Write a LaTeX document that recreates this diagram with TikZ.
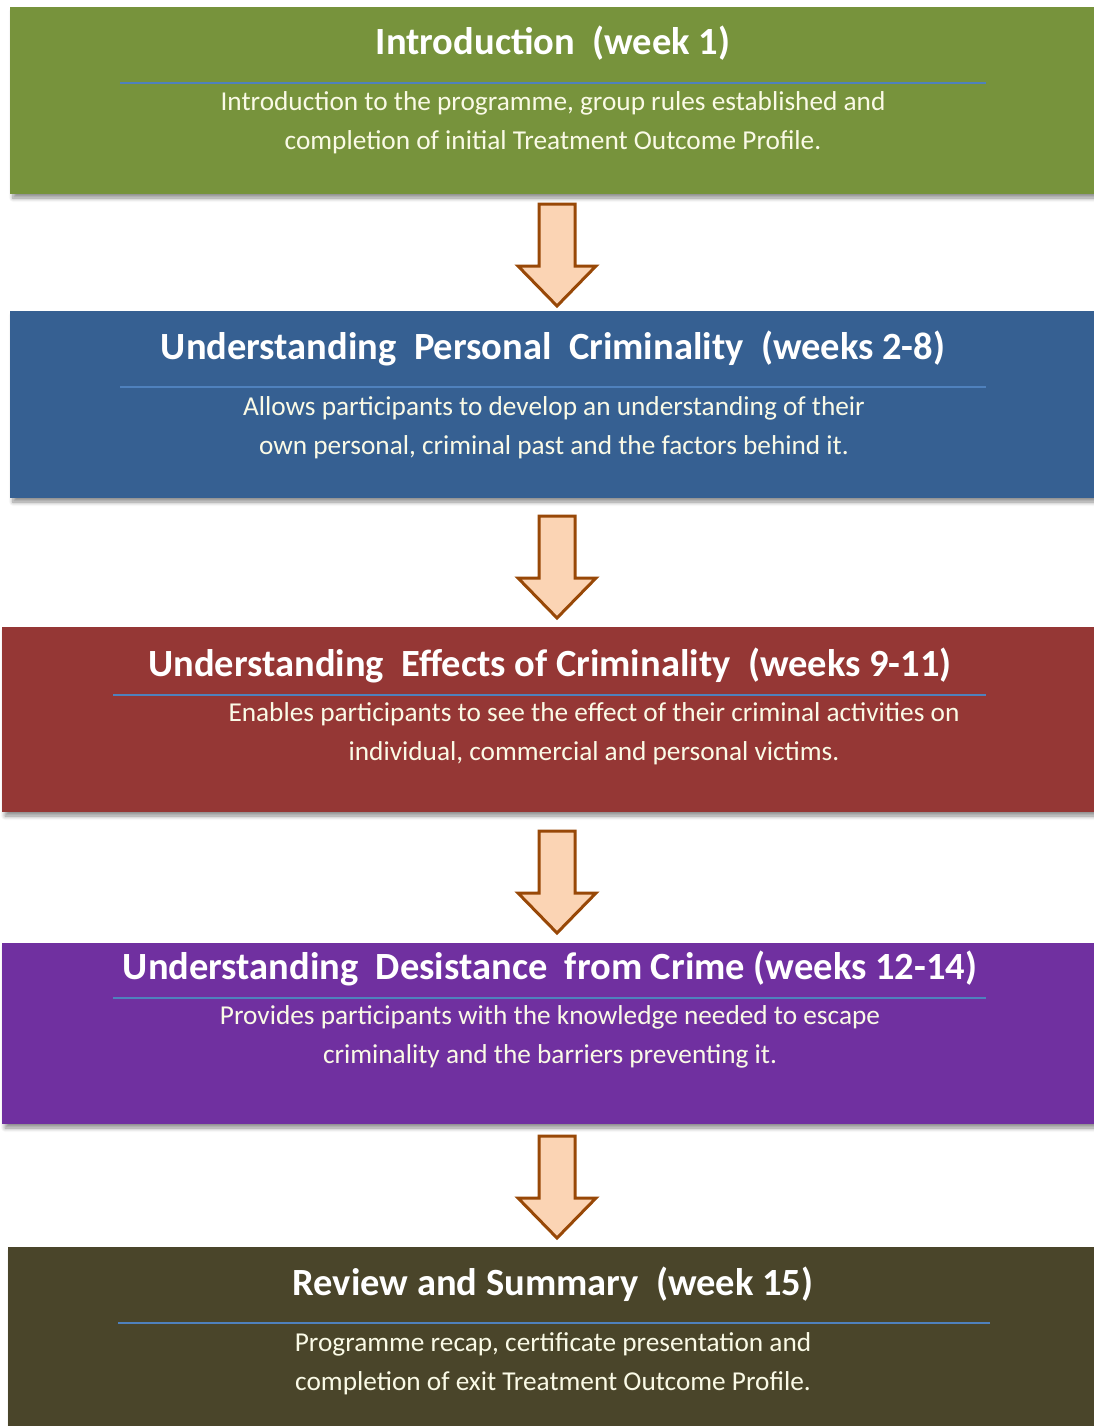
\documentclass[tikz,border=0pt]{standalone}
\usepackage{fontspec}
\setmainfont{Carlito}
\usetikzlibrary{shadows,shadows.blur,calc}
\definecolor{cgreen}{HTML}{77933C}
\definecolor{cblue}{HTML}{366092}
\definecolor{cred}{HTML}{953735}
\definecolor{cpurple}{HTML}{7030A0}
\definecolor{colive}{HTML}{4A452A}
\definecolor{arrfill}{HTML}{FBD4B4}
\definecolor{arrline}{HTML}{984807}
\definecolor{divline}{HTML}{4F81BD}
\definecolor{bodytxt}{HTML}{FAFAE6}
\tikzset{
  panel/.style={anchor=north west, inner sep=0pt, outer sep=0pt,
    blur shadow={shadow xshift=3pt, shadow yshift=-4pt, shadow blur steps=6,
      shadow blur radius=4pt, shadow opacity=45}},
  ttl/.style={text=white, font=\fontsize{38.5}{44}\selectfont\bfseries, inner sep=0pt},
  bdy/.style={text=bodytxt, font=\fontsize{27.3}{39}\selectfont, align=center, inner sep=0pt},
  divider/.style={draw=divline, line width=1.5pt},
  flowarrow/.style={draw=arrline, fill=arrfill, line width=3pt, line join=miter}
}
\newcommand{\blockarrow}[2]{%
  \coordinate (#1) at (557,#2);
  \draw[flowarrow] ($(#1)+(-18,-51)$) -- ($(#1)+(18,-51)$) -- ($(#1)+(18,11)$)
    -- ($(#1)+(39,11)$) -- ($(#1)+(0,51)$) -- ($(#1)+(-39,11)$)
    -- ($(#1)+(-18,11)$) -- cycle;}
\begin{document}
\begin{tikzpicture}[x=1pt,y=-1pt]
\useasboundingbox (0,0) rectangle (1094,1426);
% panels
\node[panel, fill=cgreen, minimum width=1084pt, minimum height=187pt] (p1) at (10,7) {};
\node[panel, fill=cblue, minimum width=1084pt, minimum height=187pt] (p2) at (10,311) {};
\node[panel, fill=cred, minimum width=1092pt, minimum height=185pt] (p3) at (2,627) {};
\node[panel, fill=cpurple, minimum width=1092pt, minimum height=181pt] (p4) at (2,943) {};
\node[panel, fill=colive, minimum width=1086pt, minimum height=185pt] (p5) at (8,1247) {};
% arrows
\blockarrow{a1}{255}
\blockarrow{a2}{567}
\blockarrow{a3}{882}
\blockarrow{a4}{1187}
% panel 1
\node[ttl] (t1) at (553,43.5) {Introduction\ \ (week 1)};
\coordinate (d1a) at (120,83); \coordinate (d1b) at (986,83);
\draw[divider] (d1a) -- (d1b);
\node[bdy] (b1) at (553,122.5) {Introduction to the programme, group rules established and\\completion of initial Treatment Outcome Profile.};
% panel 2
\node[ttl] (t2) at (553,348.5) {Understanding\ \ Personal\ \ Criminality\ \ (weeks 2-8)};
\coordinate (d2a) at (120,387); \coordinate (d2b) at (986,387);
\draw[divider] (d2a) -- (d2b);
\node[bdy] (b2) at (554,427.5) {Allows participants to develop an understanding of their\\own personal, criminal past and the factors behind it.};
% panel 3
\node[ttl] (t3) at (550,665.5) {Understanding\ \ Effects of Criminality\ \ (weeks 9-11)};
\coordinate (d3a) at (113,695); \coordinate (d3b) at (986,695);
\draw[divider] (d3a) -- (d3b);
\node[bdy] (b3) at (594,734) {Enables participants to see the effect of their criminal activities on\\individual, commercial and personal victims.};
% panel 4
\node[ttl] (t4) at (550,968.5) {Understanding\ \ Desistance\ \ from Crime (weeks 12-14)};
\coordinate (d4a) at (113,998); \coordinate (d4b) at (986,998);
\draw[divider] (d4a) -- (d4b);
\node[bdy] (b4) at (550,1037) {Provides participants with the knowledge needed to escape\\criminality and the barriers preventing it.};
% panel 5
\node[ttl] (t5) at (553,1284.5) {Review and Summary\ \ (week 15)};
\coordinate (d5a) at (118,1323); \coordinate (d5b) at (990,1323);
\draw[divider] (d5a) -- (d5b);
\node[bdy] (b5) at (553,1363.5) {Programme recap, certificate presentation and\\completion of exit Treatment Outcome Profile.};
\end{tikzpicture}
\end{document}
